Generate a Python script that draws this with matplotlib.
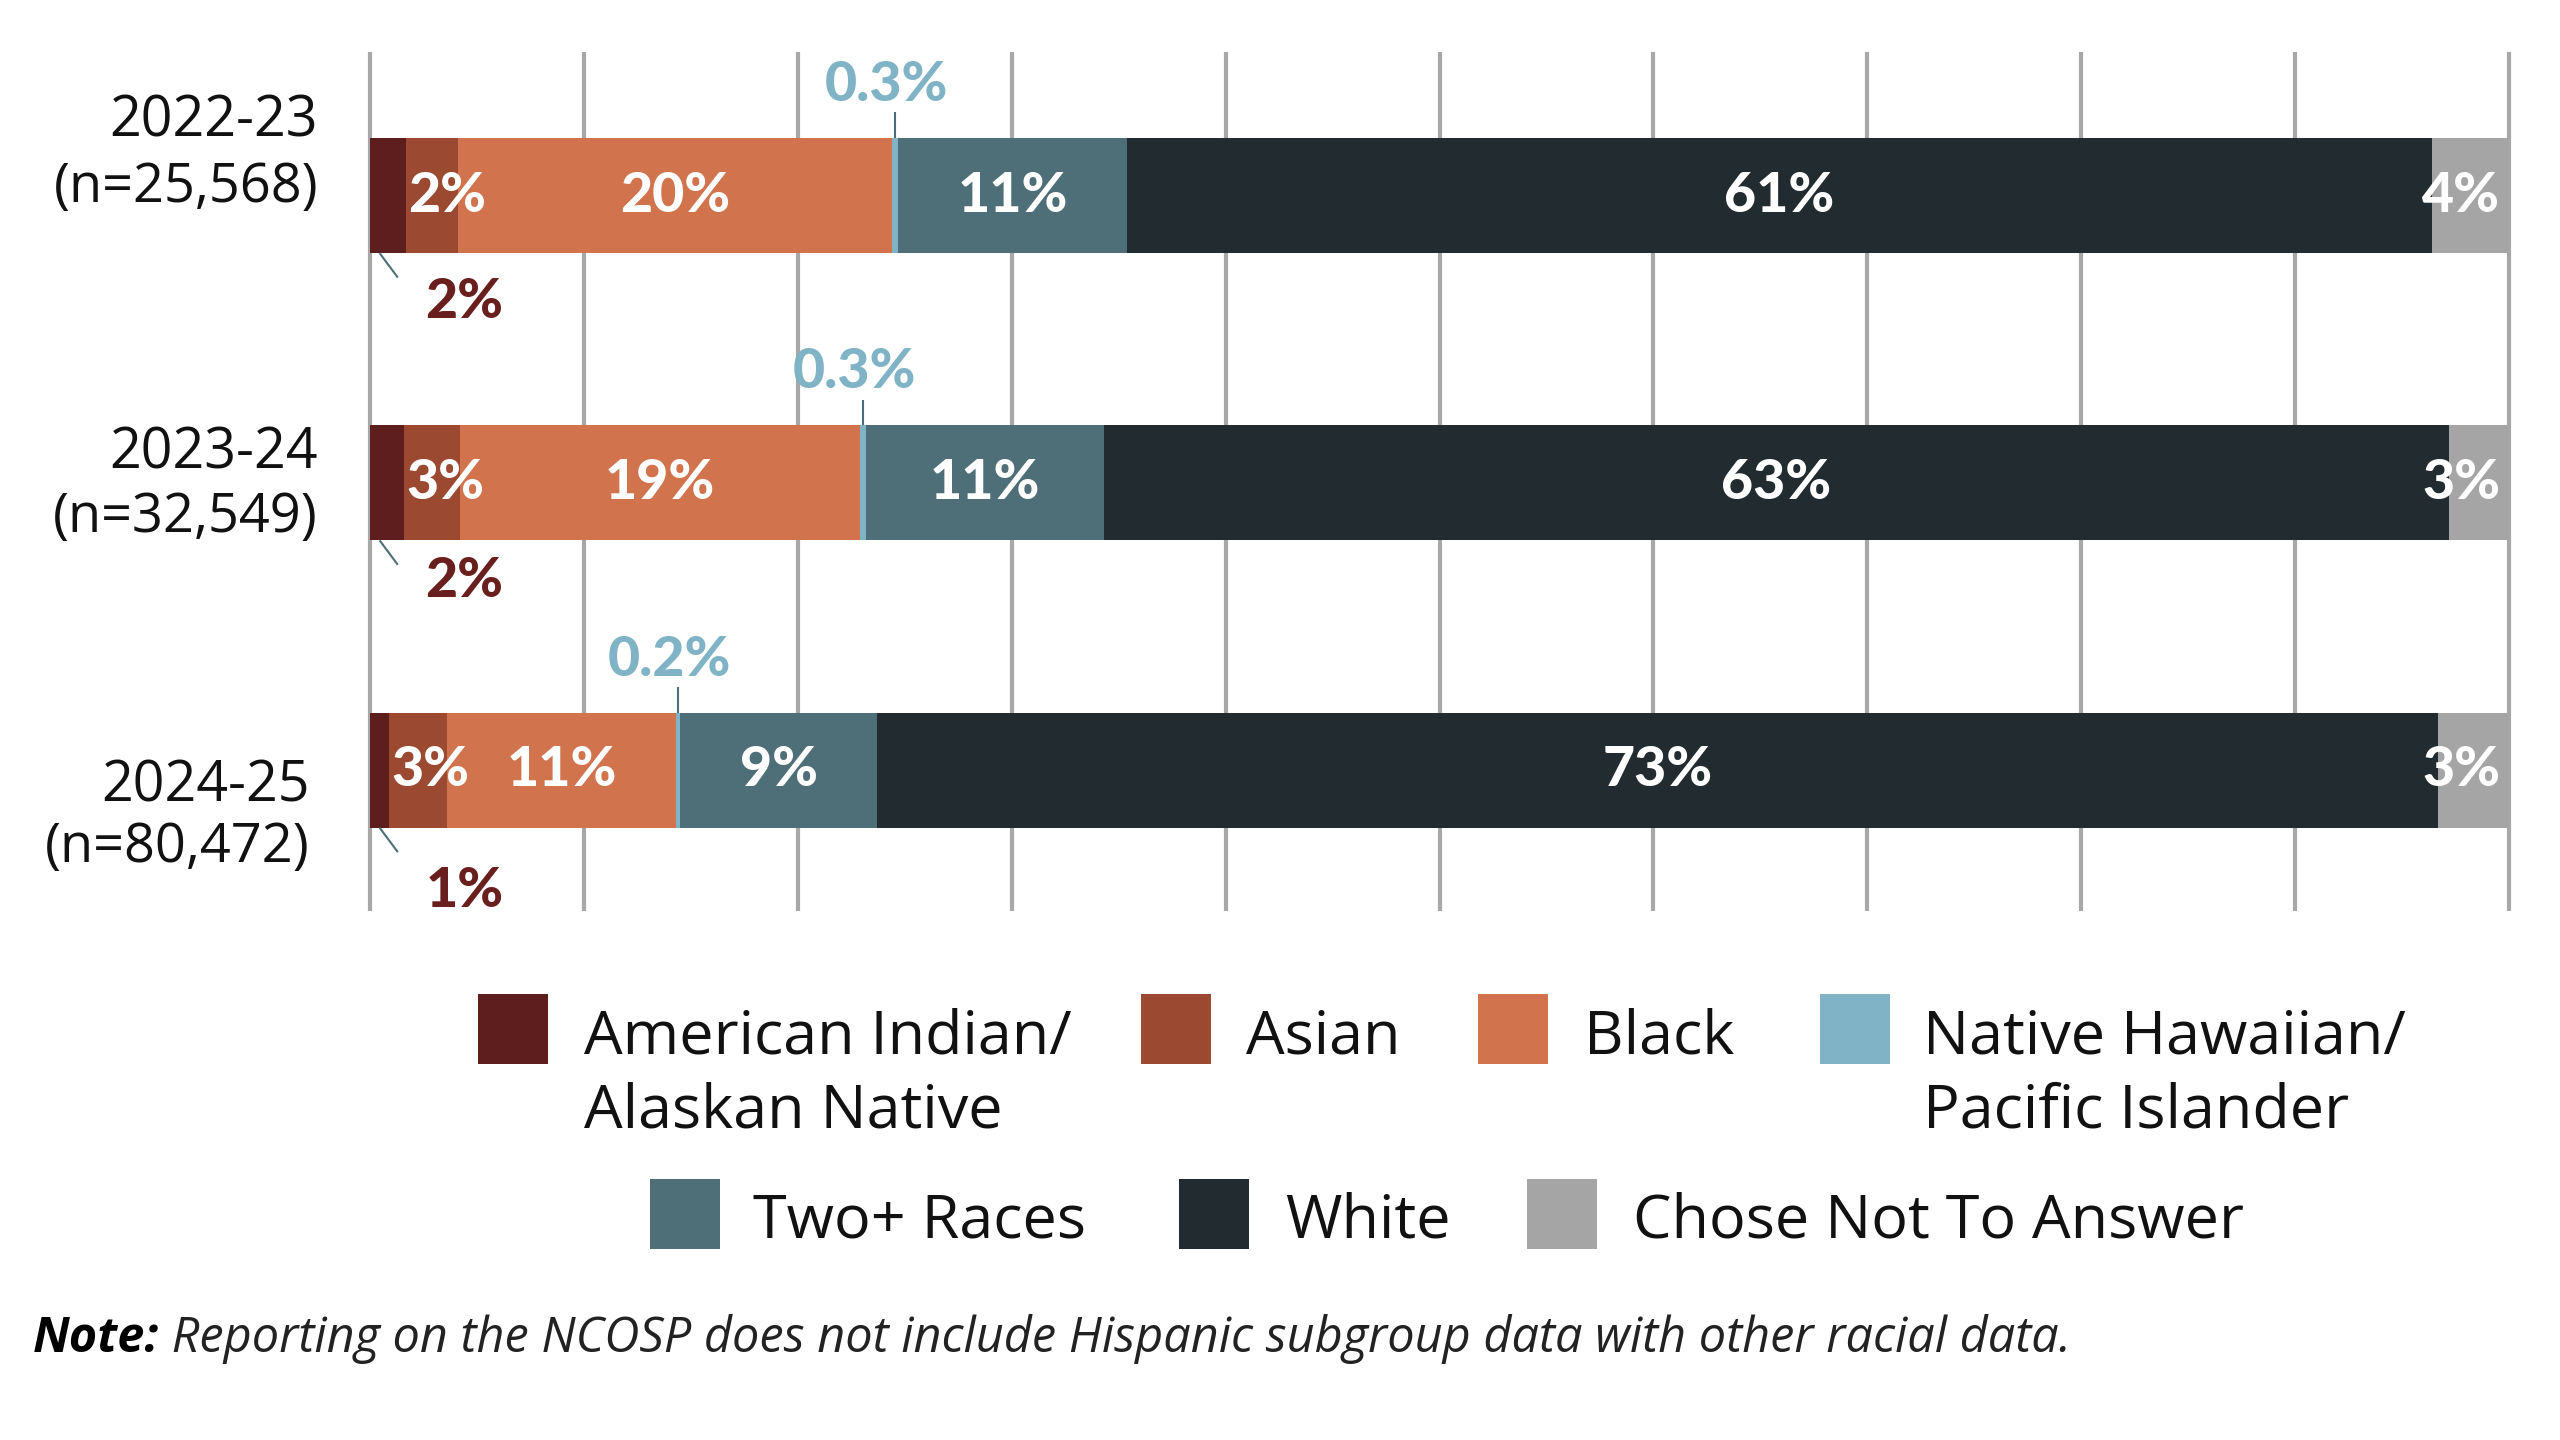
import matplotlib
matplotlib.use('Agg')
import matplotlib.pyplot as plt
from matplotlib.patches import Rectangle
import numpy as np

# ---------------- data ----------------
years = ['2022-23', '2023-24', '2024-25']
sample_sizes = ['(n=25,568)', '(n=32,549)', '(n=80,472)']
groups = ['American Indian/\nAlaskan Native', 'Asian', 'Black',
          'Native Hawaiian/\nPacific Islander', 'Two+ Races', 'White',
          'Chose Not To Answer']

american_indian = [1.7, 1.6, 0.9]
asian = [2.4, 2.6, 2.7]
black = [20.3, 18.7, 10.7]
native_hawaiian = [0.3, 0.3, 0.2]
two_plus = [10.7, 11.1, 9.2]
white = [61.0, 62.9, 73.0]
chose_not = [3.6, 2.8, 3.3]

labels_ai = ['2%', '2%', '1%']
labels_asian = ['2%', '3%', '3%']
labels_black = ['20%', '19%', '11%']
labels_nhpi = ['0.3%', '0.3%', '0.2%']
labels_two = ['11%', '11%', '9%']
labels_white = ['61%', '63%', '73%']
labels_chose = ['4%', '3%', '3%']

colors = ['#5F1E1E', '#9B4930', '#D1734D', '#7FB3C5', '#4F6F78', '#222B30', '#A5A5A5']

series = [american_indian, asian, black, native_hawaiian, two_plus, white, chose_not]

# ---------------- styling ----------------
BODY = 'Open Sans'
BOLD = 'Lato'
HEAVY = 900
W, H = 2560, 1440

fig = plt.figure(figsize=(25.6, 14.4), dpi=100)
fig.patch.set_facecolor('white')
ax_l, ax_r, ax_t, ax_b = 370, 2509, 52, 911
ax = fig.add_axes([ax_l / W, 1 - ax_b / H, (ax_r - ax_l) / W, (ax_b - ax_t) / H])
ax.set_xlim(0, 100)
ax.set_ylim(2.49, -0.50)
for s in ax.spines.values():
    s.set_visible(False)
ax.set_xticks([])
ax.set_yticks([])
ax.patch.set_alpha(0)

# grid lines
ax.vlines(np.arange(0, 101, 10), 2.49, -0.50, colors='#A8A8A8', lw=3,
          zorder=0, clip_on=False)

y = np.arange(len(years))
bar_h = 0.40
lefts = np.zeros(len(years))
starts = []
for vals, c in zip(series, colors):
    vals = np.array(vals)
    ax.barh(y, vals, left=lefts, height=bar_h, color=c, zorder=2, linewidth=0)
    starts.append(lefts.copy())
    lefts = lefts + vals

lab_kw = dict(color='white', fontsize=40, fontweight=HEAVY, family=BOLD,
              va='center', zorder=5)
for i in range(len(years)):
    ax.text(starts[1][i] + 0.1, y[i], labels_asian[i], ha='left', **lab_kw)
    ax.text(starts[2][i] + black[i] / 2, y[i], labels_black[i], ha='center', **lab_kw)
    ax.text(starts[4][i] + two_plus[i] / 2, y[i], labels_two[i], ha='center', **lab_kw)
    ax.text(starts[5][i] + white[i] / 2, y[i], labels_white[i], ha='center', **lab_kw)
    ax.text(99.6, y[i], labels_chose[i], ha='right', **lab_kw)

# callouts
ai_label_dy = [0.37, 0.34, 0.42]
for i in range(len(years)):
    yb = y[i] + bar_h / 2
    ax.plot([0.45, 1.3], [yb, yb + 0.085], color='#4F6F78', lw=1.5, zorder=3,
            solid_capstyle='butt')
    ax.text(2.6, y[i] + ai_label_dy[i], labels_ai[i], ha='left', va='center',
            color='#6A1F1F', fontsize=40, fontweight=HEAVY, family=BOLD)

    xn = starts[3][i] + native_hawaiian[i] / 2
    yt = y[i] - bar_h / 2
    ax.plot([xn, xn], [yt, yt - 0.09], color='#4F6F78', lw=1.5, zorder=3,
            solid_capstyle='butt')
    ax.text(xn - 0.4, y[i] - 0.385, labels_nhpi[i], ha='center', va='center',
            color='#7FB3C5', fontsize=40, fontweight=HEAVY, family=BOLD)

# category labels
year_dy = [-0.255, -0.10, 0.06]
n_dy = [-0.03, 0.12, 0.27]
label_x = [-0.0243, -0.0243, -0.028]
tr = ax.get_yaxis_transform()
for i in range(len(years)):
    ax.text(label_x[i], y[i] + year_dy[i], years[i], transform=tr, ha='right',
            va='center', fontsize=40, family=BODY, color='#111111')
    ax.text(label_x[i], y[i] + n_dy[i], sample_sizes[i], transform=tr, ha='right',
            va='center', fontsize=39, family=BODY, color='#111111')

# ---------------- legend (manual layout) ----------------
sq = 70
legend_sq_x = [478, 1141, 1478, 1820, 650, 1179, 1527]
legend_txt_x = [584, 1246, 1584, 1923, 753, 1285, 1633]
legend_sq_top = [994, 994, 994, 994, 1179, 1179, 1179]
legend_baseline = [1053, 1053, 1053, 1053, 1238, 1238, 1238]
line_step = 75
for k, name in enumerate(groups):
    fig.add_artist(Rectangle((legend_sq_x[k] / W, 1 - (legend_sq_top[k] + sq) / H),
                             sq / W, sq / H, transform=fig.transFigure,
                             facecolor=colors[k], edgecolor='none'))
    for j, line in enumerate(name.split('\n')):
        fig.text(legend_txt_x[k] / W, 1 - (legend_baseline[k] + j * line_step) / H,
                 line, ha='left', va='baseline', fontsize=44, family=BODY,
                 color='#111111')

# ---------------- note ----------------
t1 = fig.text(33 / W, 1 - 1352 / H, 'Note:', ha='left', va='baseline',
              fontsize=35, family=BODY, fontweight='bold', fontstyle='italic',
              color='black')
fig.canvas.draw()
ax.annotate(' Reporting on the NCOSP does not include Hispanic subgroup data with other racial data.',
            xy=(1, 0), xycoords=t1, ha='left', va='bottom', fontsize=35,
            family=BODY, fontstyle='italic', color='#222222',
            annotation_clip=False)

fig.savefig('out.png', dpi=100, facecolor='white')
